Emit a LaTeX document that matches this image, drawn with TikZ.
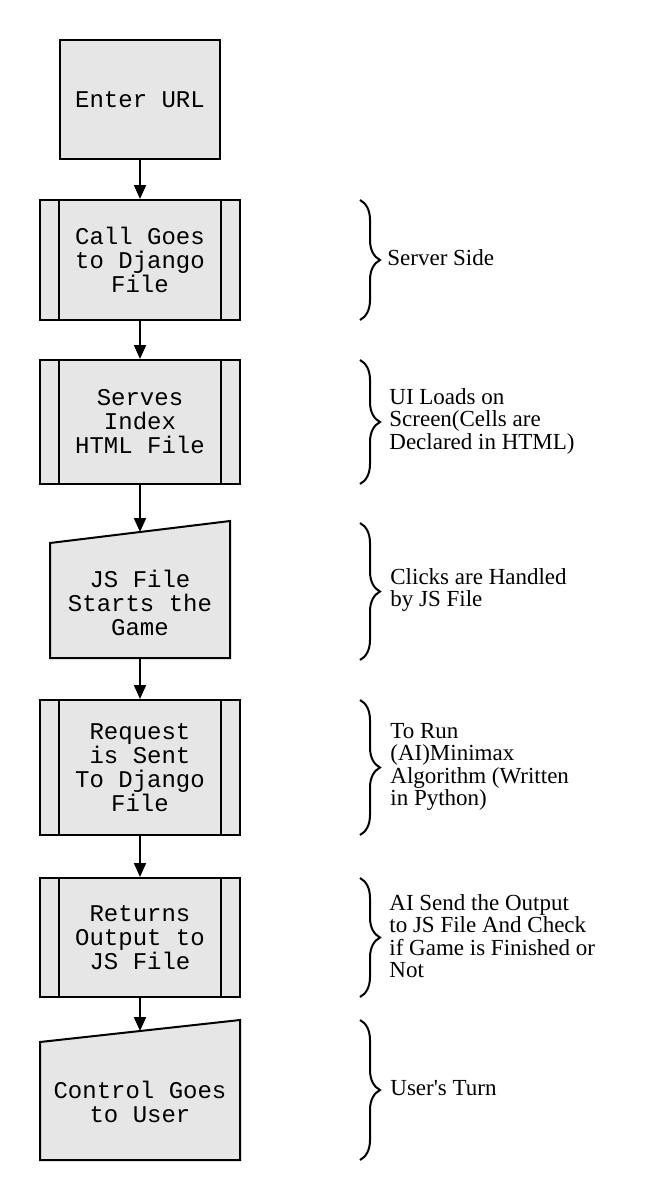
\documentclass[tikz,border=0pt]{standalone}
\usepackage{fontspec}
\setmainfont{Liberation Serif}
\newfontfamily\boxfont{Liberation Mono}
\usetikzlibrary{arrows.meta,decorations.pathreplacing,calc}
\definecolor{boxfill}{HTML}{E6E6E6}
\begin{document}
\begin{tikzpicture}[x=0.5pt,y=-0.5pt,
  shapeline/.style={draw=black, line width=1pt, fill=boxfill},
  stepbox/.style={shapeline, rectangle, minimum width=100pt, inner sep=0pt,
    align=center, font=\boxfont\fontsize{12}{12}\selectfont},
  boxtext/.style={align=center, inner sep=0pt, font=\boxfont\fontsize{12}{12}\selectfont},
  arr/.style={line width=1pt, -{Triangle[length=7pt,width=6pt]}},
  bracket/.style={line width=1pt, decorate, decoration={brace, amplitude=10pt}},
  note/.style={anchor=west, align=left, inner sep=0pt,
    font=\fontsize{11.5}{11.25}\selectfont}
]
\useasboundingbox (0,0) rectangle (660,1200);

% Box 1
\node[stepbox, minimum width=80pt, minimum height=59.5pt] (b1) at (140,99.5) {Enter URL};

% Box 2 (predefined process)
\node[stepbox, minimum height=60pt] (b2) at (140,260) {Call Goes\\to Django\\File};
\draw[line width=1pt] ([xshift=10pt]b2.north west) -- ([xshift=10pt]b2.south west);
\draw[line width=1pt] ([xshift=-10pt]b2.north east) -- ([xshift=-10pt]b2.south east);

% Box 3
\node[stepbox, minimum height=62pt] (b3) at (140,422) {Serves\\Index\\HTML File};
\draw[line width=1pt] ([xshift=10pt]b3.north west) -- ([xshift=10pt]b3.south west);
\draw[line width=1pt] ([xshift=-10pt]b3.north east) -- ([xshift=-10pt]b3.south east);

% Box 4 (manual input)
\coordinate (m4a) at (50,658);
\coordinate (m4b) at (230,658);
\coordinate (m4c) at (230,521);
\coordinate (m4d) at (50,543);
\draw[shapeline] (m4a) -- (m4b) -- (m4c) -- (m4d) -- cycle;
\node[boxtext] (b4) at (140,603) {JS File\\Starts the\\Game};
\coordinate (b4in) at ($(m4d)!0.5!(m4c)$);
\coordinate (b4out) at ($(m4a)!0.5!(m4b)$);

% Box 5
\node[stepbox, minimum height=67.5pt] (b5) at (140,767.5) {Request\\is Sent\\To Django\\File};
\draw[line width=1pt] ([xshift=10pt]b5.north west) -- ([xshift=10pt]b5.south west);
\draw[line width=1pt] ([xshift=-10pt]b5.north east) -- ([xshift=-10pt]b5.south east);

% Box 6
\node[stepbox, minimum height=59.5pt] (b6) at (140,937.5) {Returns\\Output to\\JS File};
\draw[line width=1pt] ([xshift=10pt]b6.north west) -- ([xshift=10pt]b6.south west);
\draw[line width=1pt] ([xshift=-10pt]b6.north east) -- ([xshift=-10pt]b6.south east);

% Box 7 (manual input)
\coordinate (m7a) at (40,1160);
\coordinate (m7b) at (240,1160);
\coordinate (m7c) at (240,1020);
\coordinate (m7d) at (40,1042);
\draw[shapeline] (m7a) -- (m7b) -- (m7c) -- (m7d) -- cycle;
\node[boxtext] (b7) at (140,1102) {Control Goes\\to User};
\coordinate (b7in) at ($(m7d)!0.5!(m7c)$);

% Arrows
\draw[arr] (b1.south) -- (b2.north);
\draw[arr] (b2.south) -- (b3.north);
\draw[arr] (b3.south) -- (b4in);
\draw[arr] (b4out) -- (b5.north);
\draw[arr] (b5.south) -- (b6.north);
\draw[arr] (b6.south) -- (b7in);

% Braces and notes
\draw[bracket] (360,200) -- (360,320);
\node[note] (n1) at (387,258) {Server Side};

\draw[bracket] (360,360) -- (360,484);
\node[note] (n2) at (389,421) {UI Loads on\\Screen(Cells are\\Declared in HTML)};

\draw[bracket] (360,523) -- (360,660);
\node[note] (n3) at (390,590) {Clicks are Handled\\by JS File};

\draw[bracket] (360,700) -- (360,835);
\node[note] (n4) at (390,767) {To Run\\(AI)Minimax\\Algorithm (Written\\in Python)};

\draw[bracket] (360,878) -- (360,997);
\node[note] (n5) at (389,936) {AI Send the Output\\to JS File And Check\\if Game is Finished or\\Not};

\draw[bracket] (360,1020) -- (360,1160);
\node[note] (n6) at (390,1088) {User\textquotesingle s Turn};
\end{tikzpicture}
\end{document}
